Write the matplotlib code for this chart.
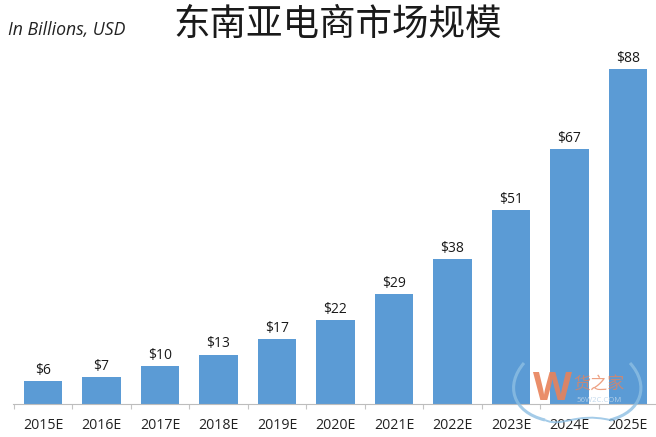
import matplotlib
matplotlib.use('Agg')
import matplotlib.pyplot as plt
from matplotlib.patches import PathPatch
from matplotlib.path import Path

years = ['2015E','2016E','2017E','2018E','2019E','2020E','2021E','2022E','2023E','2024E','2025E']
values = [6,7,10,13,17,22,29,38,51,67,88]
labels = ['$6','$7','$10','$13','$17','$22','$29','$38','$51','$67','$88']

plt.rcParams['font.family'] = ['Open Sans','Noto Sans CJK SC','DejaVu Sans']
W,H = 656,437
fig = plt.figure(figsize=(W/100,H/100),dpi=100)
ax = fig.add_axes([13/W,(H-404)/H,(W-13)/W,(404-69)/H])
ax.bar(range(11),values,width=0.66,color='#5B9BD5',zorder=2)
ax.set_xlim(-0.513,10.48)
ax.set_ylim(0,88)
for i,(v,l) in enumerate(zip(values,labels)):
    ax.annotate(l.replace('$','\\$'),(i,v),xytext=(0,2.2),textcoords='offset points',ha='center',va='bottom',fontsize=10,color='#1a1a1a',annotation_clip=False)
ax.set_xticks(range(11))
ax.set_xticklabels(years,fontsize=10.2,color='#222222')
ax.set_xticks([i-0.5 for i in range(11)],minor=True)
ax.tick_params(axis='x',which='major',length=0,pad=10.3)
ax.tick_params(axis='x',which='minor',length=3.5,color='#C4C4C4',width=0.8)
ax.set_yticks([])
for s in ['top','left','right']:
    ax.spines[s].set_visible(False)
ax.spines['bottom'].set_color('#BDBDBD')
fig.text(8/W,1-30/H,'In Billions, USD',fontsize=12.7,style='italic',va='center',color='#222222')
fig.text(338/W,1-25/H,'东南亚电商市场规模',fontsize=26.3,ha='center',va='center',color='#1a1a1a',family=['Noto Sans CJK SC','DejaVu Sans'])

# watermark
px = lambda x,y:(x/W,1-y/H)
fig.text(*px(552,389),'W',fontsize=29,fontweight='bold',ha='center',va='center',color='#E8825A',alpha=0.9,zorder=5)
fig.text(*px(599,385),'货之家',fontsize=12.3,ha='center',va='center',color='#E8825A',alpha=0.75,zorder=5,family=['Noto Sans CJK SC','DejaVu Sans'])
fig.text(*px(599,400),'56W2C.COM',fontsize=5.6,ha='center',va='center',color='#BBD4EA',alpha=0.9,zorder=5)
curve = [Path.MOVETO,Path.CURVE4,Path.CURVE4,Path.CURVE4]
for pts,lw in (([(524,363),(505,385),(512,412),(545,420)],2.2),([(630,363),(650,385),(642,412),(610,420)],2.2),
               ([(545,420),(562,428),(575,412),(610,420)],1.4)):
    fig.add_artist(PathPatch(Path([px(*p) for p in pts],curve),fc='none',ec='#8DBFE3',lw=lw,alpha=0.8,
                             transform=fig.transFigure,zorder=5))
fig.savefig('out.png',dpi=100)
